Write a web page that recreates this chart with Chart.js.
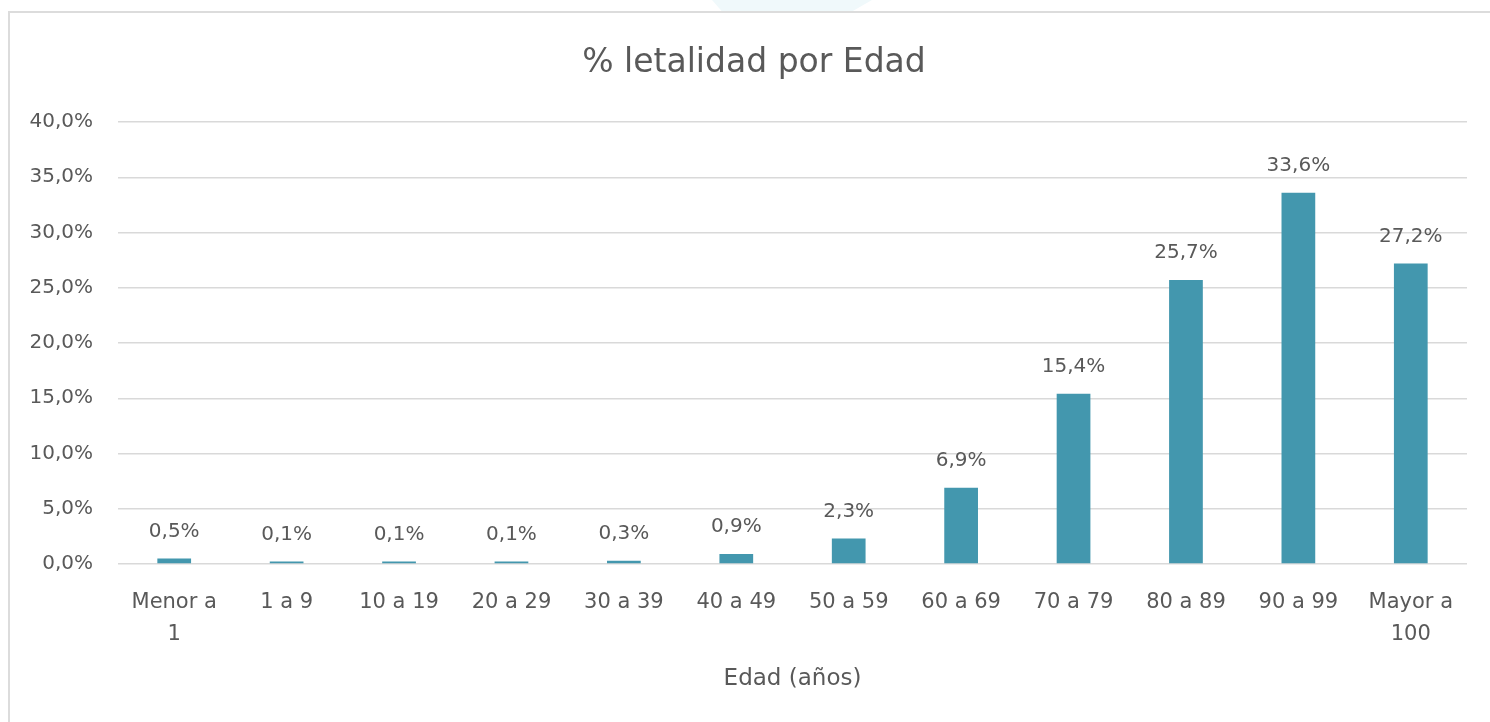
<!DOCTYPE html>
<html>
<head>
<meta charset="utf-8">
<script src="https://cdn.jsdelivr.net/npm/chart.js@4.4.1/dist/chart.umd.min.js"></script>
<style>
  html, body { margin: 0; padding: 0; background: #ffffff; overflow: hidden; }
  #wrap { position: relative; width: 1490px; height: 722px; }
  #frame { position: absolute; left: 8px; top: 11px; width: 1600px; height: 800px; border: 2px solid #dcdcdc; box-sizing: border-box; }
  #mark { position: absolute; left: 712px; top: 0px; width: 160px; height: 11px; background: #f0f9fb; clip-path: polygon(0 0, 100% 0, 88% 100%, 6% 100%); }
  canvas { position: absolute; left: 0; top: 0; }
</style>
</head>
<body>
<div id="wrap">
  <div id="mark"></div>
  <div id="frame"></div>
  <canvas id="c" width="1490" height="722"></canvas>
</div>
<script>
const categories = [["Menor a", "1"], "1 a 9", "10 a 19", "20 a 29", "30 a 39", "40 a 49", "50 a 59", "60 a 69", "70 a 79", "80 a 89", "90 a 99", ["Mayor a", "100"]];
const letalidad = [0.5, 0.1, 0.1, 0.1, 0.3, 0.9, 2.3, 6.9, 15.4, 25.7, 33.6, 27.2];
const yTicks = [0, 5, 10, 15, 20, 25, 30, 35, 40];
const chartTitle = '% letalidad por Edad';
const xTitle = 'Edad (años)';

const fmt = v => v.toFixed(1).replace('.', ',') + '%';
const FONT = "'DejaVu Sans', sans-serif";
const TXT = '#595959';

const labelPlugin = {
  id: 'barLabels',
  afterDatasetsDraw(chart) {
    const ctx = chart.ctx;
    const meta = chart.getDatasetMeta(0);
    ctx.save();
    ctx.font = "20px " + FONT;
    ctx.fillStyle = TXT;
    ctx.textAlign = 'center';
    ctx.textBaseline = 'middle';
    meta.data.forEach((bar, i) => {
      ctx.fillText(fmt(letalidad[i]), bar.x, bar.y - 27);
    });
    // chart title, centred on the full Excel chart frame
    ctx.font = "33px " + FONT;
    ctx.fillText(chartTitle, 754, 63);
    ctx.restore();
  }
};

new Chart(document.getElementById('c'), {
  type: 'bar',
  data: {
    labels: categories,
    datasets: [{
      data: letalidad,
      backgroundColor: '#4397ae',
      barPercentage: 0.3,
      categoryPercentage: 1.0,
      minBarLength: 2.5
    }]
  },
  options: {
    responsive: false,
    animation: false,
    layout: { padding: { left: 0, right: 23, top: 122, bottom: 0 } },
    plugins: {
      legend: { display: false },
      tooltip: { enabled: false },
      title: { display: false }
    },
    scales: {
      x: {
        grid: { display: false },
        border: { display: false },
        ticks: {
          color: TXT,
          font: { family: FONT, size: 21, lineHeight: 1.55 },
          padding: 14,
          maxRotation: 0,
          autoSkip: false
        },
        title: {
          display: true,
          text: xTitle,
          color: TXT,
          font: { family: FONT, size: 23 },
          padding: { top: 0, bottom: 29 }
        },
        afterFit(scale) { scale.height = 158; }
      },
      y: {
        min: 0,
        max: 40,
        afterBuildTicks(scale) { scale.ticks = yTicks.map(v => ({ value: v })); },
        grid: { color: '#d9d9d9', lineWidth: 1.5, drawTicks: false },
        border: { display: false },
        ticks: {
          color: TXT,
          font: { family: FONT, size: 20 },
          padding: 25,
          callback: v => fmt(v)
        },
        afterFit(scale) { scale.width = 118; }
      }
    }
  },
  plugins: [labelPlugin]
});
</script>
</body>
</html>
